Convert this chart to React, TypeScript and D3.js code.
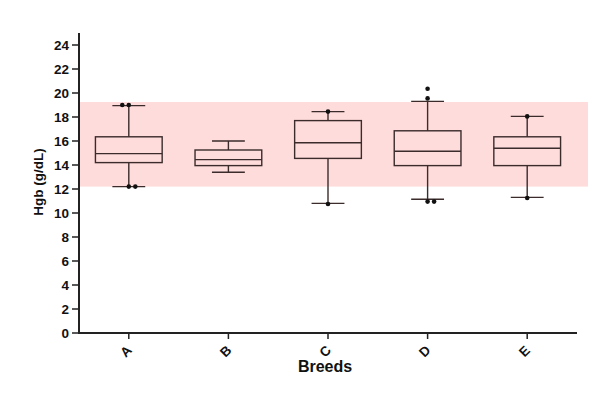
import React from "react";
import * as d3 from "d3";

const breeds = ["A", "B", "C", "D", "E"];
const whiskerLow = [12.2, 13.4, 10.8, 11.15, 11.3];
const q1 = [14.2, 13.95, 14.55, 13.95, 13.95];
const median = [14.95, 14.45, 15.85, 15.15, 15.4];
const q3 = [16.35, 15.25, 17.7, 16.85, 16.35];
const whiskerHigh = [18.95, 16.0, 18.45, 19.3, 18.05];

// outliers: breed, value, slot (side-by-side position among equal values)
const outlierBreed = ["A", "A", "A", "A", "C", "C", "D", "D", "D", "D", "E", "E"];
const outlierValue = [19.0, 19.0, 12.2, 12.2, 18.45, 10.75, 20.35, 19.55, 10.95, 10.95, 18.05, 11.25];
const outlierSlot = [-1, 0, 0, 1, 0, 0, 0, 0, 0, 1, 0, 0];

const refLow = 12.2;
const refHigh = 19.25;
const yTicks = d3.range(0, 25, 2);

const W = 609;
const H = 398;
const left = 79;
const right = 577;
const top = 33;
const bottom = 333;

const App = () => {
  const x = d3.scaleBand<string>().domain(breeds).range([left, right]).padding(0);
  const y = d3.scaleLinear().domain([0, 25]).range([bottom, top]);
  const bw = x.bandwidth();
  const boxW = bw * 0.67;
  const capW = bw * 0.33;
  const stroke = "#3b2b2b";
  const font = "Arial, 'Liberation Sans', sans-serif";

  return (
    <svg width={W} height={H} style={{ position: "absolute", left: 0, top: 0, background: "#fff" }}>
      <rect x={left} y={y(refHigh)} width={588 - left} height={y(refLow) - y(refHigh)} fill="#ffdcdc" />

      {breeds.map((b, i) => {
        const cx = (x(b) ?? 0) + bw / 2;
        return (
          <g key={b} stroke={stroke} strokeWidth={1.4} fill="none">
            <line x1={cx} x2={cx} y1={y(whiskerHigh[i])} y2={y(q3[i])} />
            <line x1={cx} x2={cx} y1={y(q1[i])} y2={y(whiskerLow[i])} />
            <line x1={cx - capW / 2} x2={cx + capW / 2} y1={y(whiskerHigh[i])} y2={y(whiskerHigh[i])} />
            <line x1={cx - capW / 2} x2={cx + capW / 2} y1={y(whiskerLow[i])} y2={y(whiskerLow[i])} />
            <rect x={cx - boxW / 2} y={y(q3[i])} width={boxW} height={y(q1[i]) - y(q3[i])} />
            <line x1={cx - boxW / 2} x2={cx + boxW / 2} y1={y(median[i])} y2={y(median[i])} />
          </g>
        );
      })}

      {outlierValue.map((v, i) => (
        <circle
          key={i}
          cx={(x(outlierBreed[i]) ?? 0) + bw / 2 + outlierSlot[i] * 6.5}
          cy={y(v)}
          r={2.3}
          fill="#111"
        />
      ))}

      {/* y axis */}
      <line x1={left} x2={left} y1={top} y2={bottom + 1} stroke="#222" strokeWidth={2} />
      {yTicks.map((t) => (
        <g key={t}>
          <line x1={left - 7} x2={left} y1={y(t)} y2={y(t)} stroke="#222" strokeWidth={1.5} />
          <text
            x={left - 10}
            y={y(t)}
            dy="0.36em"
            textAnchor="end"
            fontFamily={font}
            fontWeight="bold"
            fontSize={13.5}
            fill="#111"
          >
            {t}
          </text>
        </g>
      ))}
      <text
        transform={`translate(43, ${(top + bottom) / 2 - 1}) rotate(-90)`}
        textAnchor="middle"
        fontFamily={font}
        fontWeight="bold"
        fontSize={13.5}
        fill="#111"
      >
        Hgb (g/dL)
      </text>

      {/* x axis */}
      <line x1={left - 1} x2={right} y1={bottom} y2={bottom} stroke="#222" strokeWidth={2} />
      {breeds.map((b) => {
        const cx = (x(b) ?? 0) + bw / 2;
        return (
          <g key={b}>
            <line x1={cx} x2={cx} y1={bottom} y2={bottom + 6} stroke="#222" strokeWidth={1.5} />
            <text
              transform={`translate(${cx - 3}, ${bottom + 18}) rotate(-45)`}
              textAnchor="middle"
              dy="0.36em"
              fontFamily={font}
              fontWeight="bold"
              fontSize={13.5}
              fill="#111"
            >
              {b}
            </text>
          </g>
        );
      })}
      <text
        x={(left + right) / 2 - 3}
        y={372}
        textAnchor="middle"
        fontFamily={font}
        fontWeight="bold"
        fontSize={16}
        fill="#111"
      >
        Breeds
      </text>
    </svg>
  );
};

export default App;
